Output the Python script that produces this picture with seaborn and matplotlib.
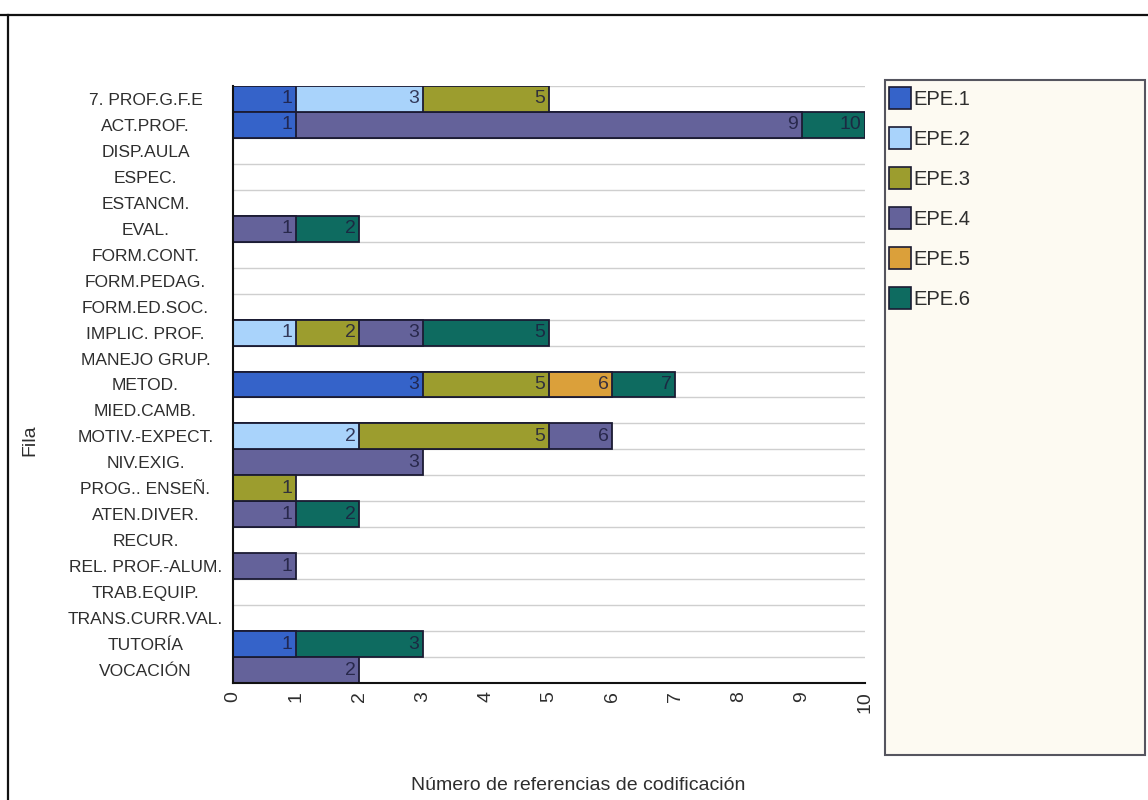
import numpy as np
import pandas as pd
import matplotlib
matplotlib.use("Agg")
import matplotlib.pyplot as plt
from matplotlib.patches import Patch, Rectangle
from matplotlib.lines import Line2D
import seaborn as sns

# Coding categories (rows, top to bottom)
filas = [
    "7. PROF.G.F.E", "ACT.PROF.", "DISP.AULA", "ESPEC.", "ESTANCM.", "EVAL.",
    "FORM.CONT.", "FORM.PEDAG.", "FORM.ED.SOC.", "IMPLIC. PROF.", "MANEJO GRUP.",
    "METOD.", "MIED.CAMB.", "MOTIV.-EXPECT.", "NIV.EXIG.", "PROG.. ENSEÑ.",
    "ATEN.DIVER.", "RECUR.", "REL. PROF.-ALUM.", "TRAB.EQUIP.", "TRANS.CURR.VAL.",
    "TUTORÍA", "VOCACIÓN",
]

# Coding references per source
series = ["EPE.1", "EPE.2", "EPE.3", "EPE.4", "EPE.5", "EPE.6"]
epe1 = [1, 1, 0, 0, 0, 0, 0, 0, 0, 0, 0, 3, 0, 0, 0, 0, 0, 0, 0, 0, 0, 1, 0]
epe2 = [2, 0, 0, 0, 0, 0, 0, 0, 0, 1, 0, 0, 0, 2, 0, 0, 0, 0, 0, 0, 0, 0, 0]
epe3 = [2, 0, 0, 0, 0, 0, 0, 0, 0, 1, 0, 2, 0, 3, 0, 1, 0, 0, 0, 0, 0, 0, 0]
epe4 = [0, 8, 0, 0, 0, 1, 0, 0, 0, 1, 0, 0, 0, 1, 3, 0, 1, 0, 1, 0, 0, 0, 2]
epe5 = [0, 0, 0, 0, 0, 0, 0, 0, 0, 0, 0, 1, 0, 0, 0, 0, 0, 0, 0, 0, 0, 0, 0]
epe6 = [0, 1, 0, 0, 0, 1, 0, 0, 0, 2, 0, 1, 0, 0, 0, 0, 1, 0, 0, 0, 0, 2, 0]

colores = ["#3563c9", "#a9d3fb", "#9c9d2e", "#64629a", "#dba03a", "#0e6b60"]
borde = "#1b1b33"
texto = "#2e2e2e"

valores = np.array([epe1, epe2, epe3, epe4, epe5, epe6])
acum = valores.cumsum(axis=0)

plt.rcParams["font.family"] = ["Liberation Sans", "DejaVu Sans"]
fig = plt.figure(figsize=(11.48, 8.0), dpi=100)
fig.patch.set_facecolor("white")
ax = fig.add_axes([233 / 1148, 1 - 683 / 800, (865 - 233) / 1148, (683 - 86) / 800])
ax.set_facecolor("white")

# Stacked bars: draw cumulative totals from the last series to the first
for k in range(len(series) - 1, -1, -1):
    df = pd.DataFrame({"fila": filas, "total": acum[k], "seg": valores[k]})
    sub = df[df["seg"] > 0]
    sns.barplot(data=sub, x="total", y="fila", order=filas, orient="y",
                color=colores[k], saturation=1, width=1.0,
                edgecolor=borde, linewidth=1.3, ax=ax, zorder=3)

# Cumulative labels at the end of each segment
for k in range(len(series)):
    for i in range(len(filas)):
        if valores[k][i] > 0:
            ax.text(acum[k][i] - 0.06, i, str(acum[k][i]), ha="right", va="center",
                    fontsize=14, color="#1e1e3e", alpha=0.85, zorder=5)

ax.set_xlim(0, 10)
ax.set_ylim(len(filas) - 0.5, -0.5)
ax.set_xticks(range(0, 11))
ax.set_xticklabels([str(v) for v in range(0, 11)], rotation=90, fontsize=14, color=texto)
ax.tick_params(axis="x", length=0, pad=6)
ax.tick_params(axis="y", length=0, pad=63, labelsize=12.5, labelcolor=texto)
for lab in ax.get_yticklabels():
    lab.set_horizontalalignment("center")

ax.set_yticks(np.arange(-0.5, len(filas), 1), minor=True)
ax.tick_params(axis="y", which="minor", length=0)
ax.grid(False)
ax.grid(axis="y", which="minor", color="#cfcfcf", linewidth=1.0, zorder=0)
ax.set_axisbelow(True)

for s in ["top", "right"]:
    ax.spines[s].set_visible(False)
for s in ["left", "bottom"]:
    ax.spines[s].set_color("#111111")
    ax.spines[s].set_linewidth(1.5)
    ax.spines[s].set_zorder(6)

ax.set_xlabel("")
ax.set_ylabel("")
fig.text(578 / 1148, 1 - 785 / 800, "Número de referencias de codificación",
         ha="center", va="center", fontsize=14, color=texto)
fig.text(30 / 1148, 1 - 440 / 800, "Fila", ha="center", va="center",
         rotation=90, fontsize=14, color=texto)

# Legend panel
fig.add_artist(Rectangle((885 / 1148, 1 - 755 / 800), 260 / 1148, 675 / 800,
                         transform=fig.transFigure, facecolor="#fdfaf2",
                         edgecolor="#55555f", linewidth=1.5, zorder=1))
handles = [Patch(facecolor=c, edgecolor=borde, linewidth=1.2) for c in colores]
leg = fig.legend(handles, series, loc="upper left",
                 bbox_to_anchor=(889 / 1148, 1 - 87 / 800), frameon=False,
                 fontsize=14.5, handlelength=1.1, handleheight=1.3,
                 handletextpad=0.12, labelspacing=0.9, borderpad=0,
                 borderaxespad=0)
leg.set_zorder(2)
for t in leg.get_texts():
    t.set_color(texto)

# Outer frame lines
fig.add_artist(Line2D([0, 1], [1 - 14.5 / 800] * 2, transform=fig.transFigure,
                      color="#111111", linewidth=1.6))
fig.add_artist(Line2D([8 / 1148] * 2, [0, 1 - 14.5 / 800], transform=fig.transFigure,
                      color="#111111", linewidth=1.6))

fig.savefig("out.png", dpi=100, facecolor="white")
